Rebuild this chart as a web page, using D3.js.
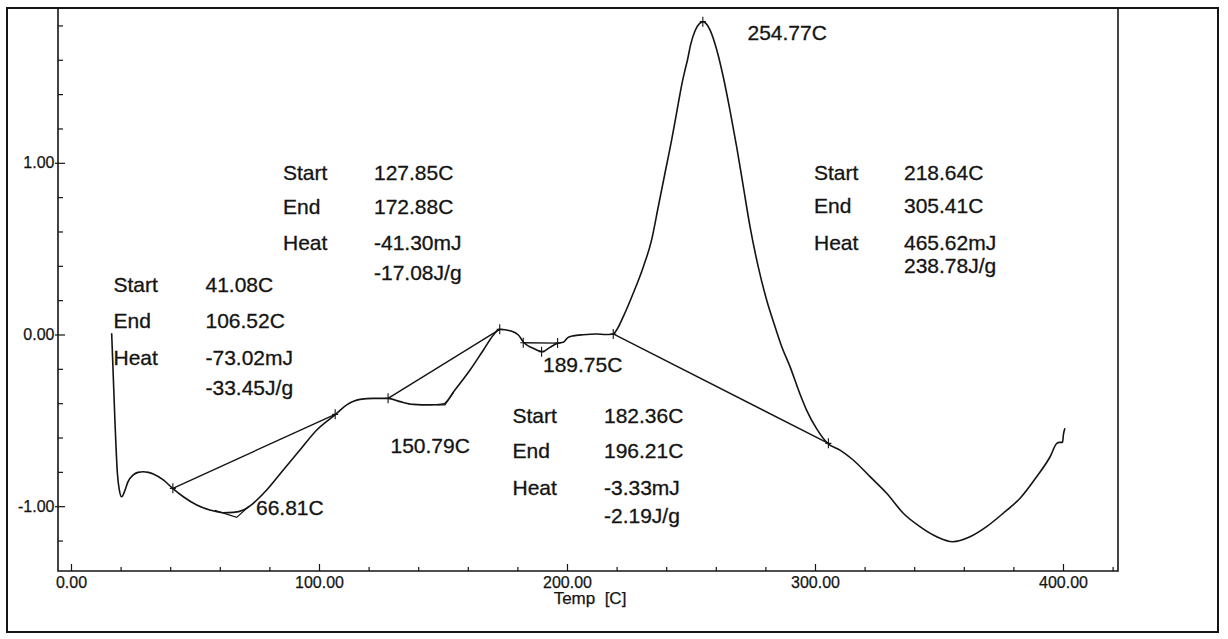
<!DOCTYPE html>
<html>
<head>
<meta charset="utf-8">
<script src="https://cdn.jsdelivr.net/npm/d3@7"></script>
<style>
  html, body { margin: 0; padding: 0; background: #fff; }
  svg { display: block; font-family: "Liberation Sans", Arial, sans-serif; }
</style>
</head>
<body>
<svg id="chart" width="1228" height="639"></svg>
<script>
// DSC thermogram: heat flow signal against temperature [C]
const temps = [
  16.4, 17.7, 18.7, 19.5, 20.4, 21.7, 22.9, 25.1, 27.0, 29.2, 31.2, 33.2, 37.2,
  41.0, 45.3, 50.7, 56.0, 61.4, 65.4, 69.5, 73.5, 78.9, 85.6, 92.3, 99.1,
  106.7, 111.2, 116.5, 121.9, 127.9, 132.7, 138.0, 144.8, 150.1, 154.8, 160.9,
  166.3, 170.5, 172.7, 175.0, 177.0, 180.4, 182.5, 184.5, 186.4, 188.5, 190.2,
  193.1, 196.3, 198.5, 200.2, 202.5, 206.6, 212.0, 215.5, 218.6, 220.0, 222.7,
  226.7, 230.8, 234.1, 236.8, 239.5, 242.2, 244.9, 246.2, 247.5, 248.6, 249.8,
  251.6, 253.5, 255.0, 256.4, 257.7, 260.4, 263.0, 265.7, 268.4, 271.1, 273.8,
  277.1, 280.5, 283.9, 286.6, 290.0, 293.9, 296.6, 300.7, 305.1, 310.1, 315.4,
  322.2, 328.9, 335.6, 342.3, 349.1, 355.5, 362.5, 369.2, 375.9, 382.7, 389.4,
  394.8, 397.5, 398.6, 399.8, 400.2, 400.8
];
const heatFlow = [
  0.007, -0.498, -0.808, -0.906, -0.945, -0.91, -0.86, -0.818, -0.803, -0.799, -0.803, -0.812, -0.847,
  -0.896, -0.945, -0.993, -1.022, -1.038, -1.036, -1.022, -0.983, -0.906, -0.789, -0.673, -0.556,
  -0.465, -0.41, -0.378, -0.372, -0.372, -0.391, -0.407, -0.41, -0.405, -0.323, -0.207,
  -0.09, 0.0, 0.03, 0.028, 0.022, -0.003, -0.045, -0.068, -0.08, -0.095, -0.10,
  -0.075, -0.051, -0.045, -0.02, -0.008, -0.001, 0.003, 0.0, 0.003, 0.026, 0.104,
  0.24, 0.395, 0.55, 0.744, 0.939, 1.133, 1.347, 1.45, 1.535, 1.6, 1.685,
  1.768, 1.812, 1.822, 1.805, 1.773, 1.657, 1.501, 1.307, 1.094, 0.861, 0.628,
  0.395, 0.201, 0.045, -0.071, -0.19, -0.345, -0.44, -0.55, -0.634, -0.673, -0.731,
  -0.828, -0.925, -1.041, -1.119, -1.178, -1.207, -1.178, -1.119, -1.041, -0.954, -0.828,
  -0.712, -0.634, -0.628, -0.628, -0.58, -0.546
];

// Integration windows: start / end points, heat values
const startTemps  = [41.08, 127.85, 182.36, 218.64];
const startValues = [-0.896, -0.372, -0.048, 0.003];
const endTemps    = [106.52, 172.88, 196.21, 305.41];
const endValues   = [-0.465, 0.03, -0.05, -0.634];
const heatMJ      = ["-73.02", "-41.30", "-3.33", "465.62"];
const heatJg      = ["-33.45", "-17.08", "-2.19", "238.78"];

// Peak points
const peakTemps  = [66.81, 150.79, 189.75, 254.77];
const peakValues = [-1.065, -0.41, -0.10, 1.822];

// Peak construction lines (curve -> peak point -> curve)
const peakLines = [
  [[58.0, -1.025], [66.81, -1.065], [71.8, -1.0]],
  [[147.5, -0.41], [150.79, -0.41], [154.3, -0.335]]
];

// Axis ticks
const xMajorTicks = [0, 100, 200, 300, 400];
const xMinorTicks = [20, 40, 60, 80, 120, 140, 160, 180, 220, 240, 260, 280, 320, 340, 360, 380, 420];
const yMajorTicks = [-1, 0, 1];
const yMinorTicks = [-1.2, -0.8, -0.6, -0.4, -0.2, 0.2, 0.4, 0.6, 0.8, 1.2, 1.4, 1.6, 1.8];
const xTitle = "Temp  [C]";

const svg = d3.select("#chart");
const ink = "#141414";
const font = "'Liberation Sans', Arial, sans-serif";

const plot = { left: 58, right: 1118, top: 8, bottom: 571 };
const x = d3.scaleLinear().domain([-5.242, 422.18]).range([plot.left, plot.right]);
const y = d3.scaleLinear().domain([-1.3774, 1.9016]).range([plot.bottom, plot.top]);

// outer frame
svg.append("rect")
  .attr("x", 7).attr("y", 8).attr("width", 1211).attr("height", 624)
  .attr("fill", "none").attr("stroke", ink).attr("stroke-width", 2);

// plot box (left, bottom, right)
svg.append("path")
  .attr("d", `M${plot.left},${plot.top}V${plot.bottom}H${plot.right}V${plot.top}`)
  .attr("fill", "none").attr("stroke", ink).attr("stroke-width", 1.6);

function styleAxis(g) {
  g.select(".domain").remove();
  g.selectAll("line").attr("stroke", ink).attr("stroke-width", 1.2);
  g.selectAll("text")
    .attr("fill", ink)
    .attr("stroke", ink).attr("stroke-width", 0.25)
    .style("font-family", font)
    .style("font-size", "16px");
}

// x axis
svg.append("g").attr("transform", `translate(0,${plot.bottom})`)
  .call(d3.axisBottom(x).tickValues(xMajorTicks).tickSizeInner(-7).tickSizeOuter(0)
    .tickPadding(6).tickFormat(d => d.toFixed(2)))
  .call(styleAxis);
svg.append("g").attr("transform", `translate(0,${plot.bottom})`)
  .call(d3.axisBottom(x).tickValues(xMinorTicks).tickSizeInner(-4).tickSizeOuter(0).tickFormat(""))
  .call(styleAxis);

// y axis
svg.append("g").attr("transform", `translate(${plot.left},0)`)
  .call(d3.axisLeft(y).tickValues(yMajorTicks).tickSizeInner(3).tickSizeOuter(0)
    .tickPadding(0.5).tickFormat(d => d.toFixed(2)))
  .call(styleAxis);
svg.append("g").attr("transform", `translate(${plot.left},0)`)
  .call(d3.axisLeft(y).tickValues(yMajorTicks).tickSizeInner(-7).tickSizeOuter(0).tickFormat(""))
  .call(styleAxis);
svg.append("g").attr("transform", `translate(${plot.left},0)`)
  .call(d3.axisLeft(y).tickValues(yMinorTicks).tickSizeInner(-5).tickSizeOuter(0).tickFormat(""))
  .call(styleAxis);

svg.append("text")
  .attr("x", (plot.left + plot.right) / 2 + 2).attr("y", 604)
  .attr("text-anchor", "middle").attr("fill", ink)
  .attr("stroke", ink).attr("stroke-width", 0.25)
  .style("font-size", "17px").style("white-space", "pre")
  .text(xTitle);

// baselines of the integrated peaks
startTemps.forEach((t, i) => {
  svg.append("line")
    .attr("x1", x(t)).attr("y1", y(startValues[i]))
    .attr("x2", x(endTemps[i])).attr("y2", y(endValues[i]))
    .attr("stroke", ink).attr("stroke-width", 1.4);
});

// peak construction lines
const line = d3.line().x(d => x(d[0])).y(d => y(d[1]));
peakLines.forEach(pts => {
  svg.append("path").attr("d", line(pts))
    .attr("fill", "none").attr("stroke", ink).attr("stroke-width", 1.3);
});

// the DSC curve
const curveData = temps.map((t, i) => [t, heatFlow[i]]);
svg.append("path")
  .attr("d", d3.line().x(d => x(d[0])).y(d => y(d[1])).curve(d3.curveMonotoneX)(curveData))
  .attr("fill", "none").attr("stroke", ink).attr("stroke-width", 1.6)
  .attr("stroke-linejoin", "round");

// cross markers at start / end / peak points
const markers = [];
startTemps.forEach((t, i) => markers.push([t, startValues[i]]));
endTemps.forEach((t, i) => markers.push([t, endValues[i]]));
markers.push([peakTemps[2], peakValues[2]]);
markers.push([peakTemps[3], peakValues[3]]);
markers.forEach(([t, v]) => {
  const cx = x(t), cy = y(v);
  svg.append("path")
    .attr("d", `M${cx},${cy - 5}V${cy + 5}M${cx - 3},${cy}H${cx + 3}`)
    .attr("stroke", ink).attr("stroke-width", 1.1);
});

// peak temperature labels
const peakLabelPos = [[256, 515], [390.5, 453], [543, 372], [747.5, 40]];
peakTemps.forEach((t, i) => {
  svg.append("text")
    .attr("x", peakLabelPos[i][0]).attr("y", peakLabelPos[i][1])
    .attr("fill", ink).attr("stroke", ink).attr("stroke-width", 0.3)
    .style("font-size", "21px")
    .text(`${t.toFixed(2)}C`);
});

// integration result blocks
const blocks = [
  { lx: 113.5, vx: 205.5, rows: [292, 328, 365, 395] },
  { lx: 283,   vx: 374,   rows: [180, 214, 250, 280] },
  { lx: 512.5, vx: 604,   rows: [423, 458, 495, 523] },
  { lx: 814,   vx: 904,   rows: [180, 213, 250, 273] }
];
blocks.forEach((b, i) => {
  const g = svg.append("g")
    .attr("fill", ink).attr("stroke", ink).attr("stroke-width", 0.3)
    .style("font-size", "21px");
  const labels = ["Start", "End", "Heat"];
  labels.forEach((lab, r) => {
    g.append("text").attr("x", b.lx).attr("y", b.rows[r]).text(lab);
  });
  const vals = [
    `${startTemps[i].toFixed(2)}C`,
    `${endTemps[i].toFixed(2)}C`,
    `${heatMJ[i]}mJ`,
    `${heatJg[i]}J/g`
  ];
  vals.forEach((v, r) => {
    g.append("text").attr("x", b.vx).attr("y", b.rows[r]).text(v);
  });
});
</script>
</body>
</html>
